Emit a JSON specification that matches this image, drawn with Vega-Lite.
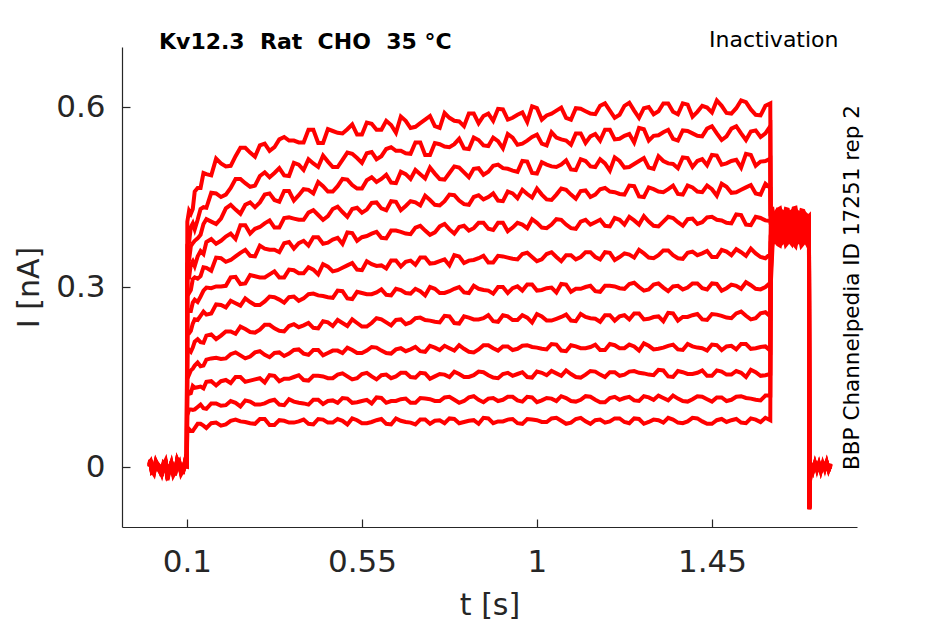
{
  "$schema": "https://vega.github.io/schema/vega-lite/v6.json",
  "description": "Kv12.3 inactivation current traces",
  "width": 735,
  "height": 480,
  "autosize": {"type": "none"},
  "padding": {"left": 122, "top": 47, "right": 88, "bottom": 97},
  "background": "white",
  "config": {"view": {"stroke": null}, "axis": {"grid": false}},
  "title": {
    "text": "Kv12.3\u00a0\u00a0Rat\u00a0\u00a0CHO\u00a0\u00a035 °C",
    "anchor": "start",
    "frame": "group",
    "dx": 37,
    "offset": -43,
    "baseline": "alphabetic",
    "font": "DejaVu Sans",
    "fontSize": 22,
    "fontWeight": "bold",
    "color": "#000000"
  },
  "layer": [
    {
      "data": {
        "values": [
          {"t": 0.003, "s1": 0.004, "s2": 0.007, "s3": 0.002, "s4": 0.008, "s5": 0.001, "s6": 0.005, "s7": 0.000, "s8": 0.006, "s9": 0.003, "s10": 0.007, "s11": 0.002, "s12": 0.005},
          {"t": 0.0065, "s1": 0.010, "s2": 0.007, "s3": 0.011, "s4": 0.005, "s5": 0.008, "s6": 0.012, "s7": 0.006, "s8": 0.009, "s9": 0.004, "s10": 0.010, "s11": 0.011, "s12": 0.007},
          {"t": 0.01, "s1": -0.006, "s2": -0.003, "s3": -0.008, "s4": -0.002, "s5": -0.009, "s6": -0.005, "s7": -0.010, "s8": -0.004, "s9": -0.007, "s10": -0.003, "s11": -0.008, "s12": -0.005},
          {"t": 0.015, "s1": -0.006, "s2": -0.009, "s3": -0.005, "s4": -0.011, "s5": -0.008, "s6": -0.004, "s7": -0.010, "s8": -0.007, "s9": -0.012, "s10": -0.006, "s11": -0.005, "s12": -0.009},
          {"t": 0.02, "s1": 0.007, "s2": 0.010, "s3": 0.005, "s4": 0.011, "s5": 0.004, "s6": 0.008, "s7": 0.003, "s8": 0.009, "s9": 0.006, "s10": 0.010, "s11": 0.005, "s12": 0.008},
          {"t": 0.025, "s1": 0.003, "s2": 0.000, "s3": 0.004, "s4": -0.002, "s5": 0.001, "s6": 0.005, "s7": -0.001, "s8": 0.002, "s9": -0.003, "s10": 0.003, "s11": 0.004, "s12": 0.000},
          {"t": 0.03, "s1": -0.004, "s2": -0.001, "s3": -0.006, "s4": 0.000, "s5": -0.007, "s6": -0.003, "s7": -0.008, "s8": -0.002, "s9": -0.005, "s10": -0.001, "s11": -0.006, "s12": -0.003},
          {"t": 0.035, "s1": -0.009, "s2": -0.012, "s3": -0.008, "s4": -0.014, "s5": -0.011, "s6": -0.007, "s7": -0.013, "s8": -0.010, "s9": -0.015, "s10": -0.009, "s11": -0.008, "s12": -0.012},
          {"t": 0.04, "s1": 0.003, "s2": 0.006, "s3": 0.001, "s4": 0.007, "s5": 0.000, "s6": 0.004, "s7": -0.001, "s8": 0.005, "s9": 0.002, "s10": 0.006, "s11": 0.001, "s12": 0.004},
          {"t": 0.045, "s1": 0.009, "s2": 0.006, "s3": 0.010, "s4": 0.004, "s5": 0.007, "s6": 0.011, "s7": 0.005, "s8": 0.008, "s9": 0.003, "s10": 0.009, "s11": 0.010, "s12": 0.006},
          {"t": 0.05, "s1": -0.018, "s2": -0.012, "s3": -0.020, "s4": -0.010, "s5": -0.016, "s6": -0.009, "s7": -0.022, "s8": -0.011, "s9": -0.014, "s10": -0.008, "s11": -0.019, "s12": -0.013},
          {"t": 0.055, "s1": -0.002, "s2": -0.005, "s3": -0.001, "s4": -0.007, "s5": -0.004, "s6": 0.000, "s7": -0.006, "s8": -0.003, "s9": -0.008, "s10": -0.002, "s11": -0.001, "s12": -0.005},
          {"t": 0.06, "s1": 0.005, "s2": 0.008, "s3": 0.003, "s4": 0.009, "s5": 0.002, "s6": 0.006, "s7": 0.001, "s8": 0.007, "s9": 0.004, "s10": 0.008, "s11": 0.003, "s12": 0.006},
          {"t": 0.065, "s1": -0.008, "s2": -0.011, "s3": -0.007, "s4": -0.013, "s5": -0.010, "s6": -0.006, "s7": -0.012, "s8": -0.009, "s9": -0.014, "s10": -0.008, "s11": -0.007, "s12": -0.011},
          {"t": 0.07, "s1": -0.007, "s2": -0.004, "s3": -0.009, "s4": -0.003, "s5": -0.010, "s6": -0.006, "s7": -0.011, "s8": -0.005, "s9": -0.008, "s10": -0.004, "s11": -0.009, "s12": -0.006},
          {"t": 0.075, "s1": 0.011, "s2": 0.008, "s3": 0.012, "s4": 0.006, "s5": 0.009, "s6": 0.013, "s7": 0.007, "s8": 0.010, "s9": 0.005, "s10": 0.011, "s11": 0.012, "s12": 0.008},
          {"t": 0.08, "s1": 0.006, "s2": 0.009, "s3": 0.004, "s4": 0.010, "s5": 0.003, "s6": 0.007, "s7": 0.002, "s8": 0.008, "s9": 0.005, "s10": 0.009, "s11": 0.004, "s12": 0.007},
          {"t": 0.085, "s1": -0.006, "s2": -0.009, "s3": -0.005, "s4": -0.011, "s5": -0.008, "s6": -0.004, "s7": -0.010, "s8": -0.007, "s9": -0.012, "s10": -0.006, "s11": -0.005, "s12": -0.009},
          {"t": 0.09, "s1": -0.005, "s2": -0.002, "s3": -0.007, "s4": -0.001, "s5": -0.008, "s6": -0.004, "s7": -0.009, "s8": -0.003, "s9": -0.006, "s10": -0.002, "s11": -0.007, "s12": -0.004},
          {"t": 0.095, "s1": 0.008, "s2": 0.005, "s3": 0.009, "s4": 0.003, "s5": 0.006, "s6": 0.010, "s7": 0.004, "s8": 0.007, "s9": 0.002, "s10": 0.008, "s11": 0.009, "s12": 0.005},
          {"t": 0.0995, "s1": 0.002, "s2": 0.005, "s3": 0.000, "s4": 0.006, "s5": -0.001, "s6": 0.003, "s7": -0.002, "s8": 0.004, "s9": 0.001, "s10": 0.005, "s11": 0.000, "s12": 0.003},
          {"t": 0.101, "s1": 0.066, "s2": 0.086, "s3": 0.128, "s4": 0.161, "s5": 0.190, "s6": 0.223, "s7": 0.262, "s8": 0.296, "s9": 0.316, "s10": 0.339, "s11": 0.370, "s12": 0.409},
          {"t": 0.11, "s1": 0.060, "s2": 0.096, "s3": 0.123, "s4": 0.161, "s5": 0.192, "s6": 0.227, "s7": 0.260, "s8": 0.295, "s9": 0.338, "s10": 0.368, "s11": 0.400, "s12": 0.422},
          {"t": 0.12, "s1": 0.065, "s2": 0.096, "s3": 0.132, "s4": 0.169, "s5": 0.209, "s6": 0.246, "s7": 0.279, "s8": 0.316, "s9": 0.335, "s10": 0.377, "s11": 0.396, "s12": 0.459},
          {"t": 0.135, "s1": 0.072, "s2": 0.104, "s3": 0.134, "s4": 0.168, "s5": 0.208, "s6": 0.252, "s7": 0.284, "s8": 0.318, "s9": 0.360, "s10": 0.387, "s11": 0.430, "s12": 0.465},
          {"t": 0.15, "s1": 0.065, "s2": 0.097, "s3": 0.142, "s4": 0.179, "s5": 0.219, "s6": 0.254, "s7": 0.299, "s8": 0.332, "s9": 0.375, "s10": 0.413, "s11": 0.432, "s12": 0.488},
          {"t": 0.175, "s1": 0.074, "s2": 0.106, "s3": 0.136, "s4": 0.182, "s5": 0.213, "s6": 0.271, "s7": 0.301, "s8": 0.349, "s9": 0.372, "s10": 0.405, "s11": 0.456, "s12": 0.514},
          {"t": 0.2, "s1": 0.071, "s2": 0.103, "s3": 0.145, "s4": 0.181, "s5": 0.226, "s6": 0.266, "s7": 0.302, "s8": 0.342, "s9": 0.384, "s10": 0.431, "s11": 0.454, "s12": 0.501},
          {"t": 0.225, "s1": 0.079, "s2": 0.107, "s3": 0.150, "s4": 0.191, "s5": 0.222, "s6": 0.273, "s7": 0.317, "s8": 0.351, "s9": 0.380, "s10": 0.429, "s11": 0.480, "s12": 0.518},
          {"t": 0.25, "s1": 0.075, "s2": 0.111, "s3": 0.142, "s4": 0.181, "s5": 0.230, "s6": 0.281, "s7": 0.306, "s8": 0.362, "s9": 0.403, "s10": 0.437, "s11": 0.473, "s12": 0.532},
          {"t": 0.275, "s1": 0.072, "s2": 0.104, "s3": 0.146, "s4": 0.191, "s5": 0.224, "s6": 0.270, "s7": 0.318, "s8": 0.351, "s9": 0.397, "s10": 0.433, "s11": 0.469, "s12": 0.517},
          {"t": 0.3, "s1": 0.080, "s2": 0.106, "s3": 0.141, "s4": 0.187, "s5": 0.237, "s6": 0.276, "s7": 0.316, "s8": 0.364, "s9": 0.406, "s10": 0.454, "s11": 0.491, "s12": 0.539},
          {"t": 0.325, "s1": 0.070, "s2": 0.112, "s3": 0.152, "s4": 0.190, "s5": 0.231, "s6": 0.283, "s7": 0.326, "s8": 0.362, "s9": 0.399, "s10": 0.445, "s11": 0.490, "s12": 0.533},
          {"t": 0.35, "s1": 0.077, "s2": 0.103, "s3": 0.147, "s4": 0.185, "s5": 0.226, "s6": 0.274, "s7": 0.316, "s8": 0.373, "s9": 0.415, "s10": 0.460, "s11": 0.486, "s12": 0.550},
          {"t": 0.375, "s1": 0.074, "s2": 0.109, "s3": 0.150, "s4": 0.195, "s5": 0.238, "s6": 0.284, "s7": 0.328, "s8": 0.364, "s9": 0.414, "s10": 0.444, "s11": 0.507, "s12": 0.544},
          {"t": 0.4, "s1": 0.079, "s2": 0.106, "s3": 0.145, "s4": 0.189, "s5": 0.236, "s6": 0.281, "s7": 0.323, "s8": 0.377, "s9": 0.412, "s10": 0.463, "s11": 0.495, "s12": 0.541},
          {"t": 0.425, "s1": 0.071, "s2": 0.112, "s3": 0.152, "s4": 0.195, "s5": 0.232, "s6": 0.289, "s7": 0.329, "s8": 0.383, "s9": 0.428, "s10": 0.456, "s11": 0.506, "s12": 0.562},
          {"t": 0.45, "s1": 0.079, "s2": 0.105, "s3": 0.151, "s4": 0.186, "s5": 0.243, "s6": 0.285, "s7": 0.338, "s8": 0.372, "s9": 0.412, "s10": 0.468, "s11": 0.519, "s12": 0.540},
          {"t": 0.475, "s1": 0.074, "s2": 0.111, "s3": 0.148, "s4": 0.194, "s5": 0.235, "s6": 0.282, "s7": 0.326, "s8": 0.379, "s9": 0.430, "s10": 0.459, "s11": 0.500, "s12": 0.560},
          {"t": 0.5, "s1": 0.077, "s2": 0.115, "s3": 0.156, "s4": 0.190, "s5": 0.240, "s6": 0.293, "s7": 0.332, "s8": 0.372, "s9": 0.425, "s10": 0.480, "s11": 0.512, "s12": 0.556},
          {"t": 0.525, "s1": 0.081, "s2": 0.107, "s3": 0.146, "s4": 0.195, "s5": 0.246, "s6": 0.280, "s7": 0.340, "s8": 0.390, "s9": 0.430, "s10": 0.470, "s11": 0.522, "s12": 0.571},
          {"t": 0.55, "s1": 0.073, "s2": 0.110, "s3": 0.155, "s4": 0.190, "s5": 0.234, "s6": 0.290, "s7": 0.328, "s8": 0.383, "s9": 0.424, "s10": 0.464, "s11": 0.507, "s12": 0.554},
          {"t": 0.575, "s1": 0.075, "s2": 0.106, "s3": 0.151, "s4": 0.200, "s5": 0.240, "s6": 0.288, "s7": 0.338, "s8": 0.389, "s9": 0.440, "s10": 0.483, "s11": 0.525, "s12": 0.572},
          {"t": 0.6, "s1": 0.080, "s2": 0.115, "s3": 0.153, "s4": 0.194, "s5": 0.246, "s6": 0.296, "s7": 0.336, "s8": 0.382, "s9": 0.431, "s10": 0.480, "s11": 0.518, "s12": 0.562},
          {"t": 0.625, "s1": 0.071, "s2": 0.110, "s3": 0.148, "s4": 0.189, "s5": 0.236, "s6": 0.286, "s7": 0.344, "s8": 0.394, "s9": 0.443, "s10": 0.474, "s11": 0.533, "s12": 0.570},
          {"t": 0.65, "s1": 0.077, "s2": 0.113, "s3": 0.157, "s4": 0.198, "s5": 0.246, "s6": 0.295, "s7": 0.334, "s8": 0.392, "s9": 0.428, "s10": 0.492, "s11": 0.527, "s12": 0.584},
          {"t": 0.675, "s1": 0.074, "s2": 0.107, "s3": 0.150, "s4": 0.196, "s5": 0.241, "s6": 0.289, "s7": 0.344, "s8": 0.388, "s9": 0.443, "s10": 0.480, "s11": 0.522, "s12": 0.565},
          {"t": 0.7, "s1": 0.079, "s2": 0.115, "s3": 0.157, "s4": 0.193, "s5": 0.249, "s6": 0.293, "s7": 0.349, "s8": 0.402, "s9": 0.436, "s10": 0.488, "s11": 0.541, "s12": 0.573},
          {"t": 0.725, "s1": 0.072, "s2": 0.113, "s3": 0.147, "s4": 0.202, "s5": 0.244, "s6": 0.300, "s7": 0.339, "s8": 0.387, "s9": 0.445, "s10": 0.499, "s11": 0.520, "s12": 0.585},
          {"t": 0.75, "s1": 0.078, "s2": 0.110, "s3": 0.155, "s4": 0.195, "s5": 0.241, "s6": 0.290, "s7": 0.343, "s8": 0.401, "s9": 0.436, "s10": 0.480, "s11": 0.538, "s12": 0.565},
          {"t": 0.775, "s1": 0.081, "s2": 0.117, "s3": 0.150, "s4": 0.198, "s5": 0.251, "s6": 0.293, "s7": 0.336, "s8": 0.396, "s9": 0.454, "s10": 0.490, "s11": 0.533, "s12": 0.582},
          {"t": 0.8, "s1": 0.073, "s2": 0.107, "s3": 0.155, "s4": 0.203, "s5": 0.239, "s6": 0.300, "s7": 0.351, "s8": 0.400, "s9": 0.444, "s10": 0.499, "s11": 0.547, "s12": 0.576},
          {"t": 0.825, "s1": 0.077, "s2": 0.116, "s3": 0.150, "s4": 0.192, "s5": 0.249, "s6": 0.290, "s7": 0.344, "s8": 0.394, "s9": 0.437, "s10": 0.483, "s11": 0.530, "s12": 0.589},
          {"t": 0.85, "s1": 0.072, "s2": 0.112, "s3": 0.159, "s4": 0.196, "s5": 0.246, "s6": 0.297, "s7": 0.348, "s8": 0.407, "s9": 0.453, "s10": 0.498, "s11": 0.545, "s12": 0.573},
          {"t": 0.875, "s1": 0.081, "s2": 0.114, "s3": 0.153, "s4": 0.203, "s5": 0.253, "s6": 0.294, "s7": 0.341, "s8": 0.397, "s9": 0.450, "s10": 0.492, "s11": 0.535, "s12": 0.589},
          {"t": 0.9, "s1": 0.076, "s2": 0.110, "s3": 0.148, "s4": 0.194, "s5": 0.242, "s6": 0.300, "s7": 0.352, "s8": 0.407, "s9": 0.444, "s10": 0.504, "s11": 0.543, "s12": 0.597},
          {"t": 0.925, "s1": 0.079, "s2": 0.117, "s3": 0.157, "s4": 0.201, "s5": 0.251, "s6": 0.290, "s7": 0.349, "s8": 0.393, "s9": 0.459, "s10": 0.497, "s11": 0.555, "s12": 0.579},
          {"t": 0.95, "s1": 0.073, "s2": 0.111, "s3": 0.155, "s4": 0.197, "s5": 0.245, "s6": 0.301, "s7": 0.346, "s8": 0.407, "s9": 0.448, "s10": 0.492, "s11": 0.537, "s12": 0.587},
          {"t": 0.975, "s1": 0.080, "s2": 0.117, "s3": 0.150, "s4": 0.203, "s5": 0.249, "s6": 0.304, "s7": 0.357, "s8": 0.398, "s9": 0.455, "s10": 0.509, "s11": 0.544, "s12": 0.575},
          {"t": 1.0, "s1": 0.078, "s2": 0.108, "s3": 0.159, "s4": 0.199, "s5": 0.255, "s6": 0.294, "s7": 0.343, "s8": 0.407, "s9": 0.464, "s10": 0.489, "s11": 0.554, "s12": 0.598},
          {"t": 1.025, "s1": 0.075, "s2": 0.115, "s3": 0.153, "s4": 0.196, "s5": 0.244, "s6": 0.298, "s7": 0.355, "s8": 0.398, "s9": 0.446, "s10": 0.504, "s11": 0.536, "s12": 0.586},
          {"t": 1.05, "s1": 0.082, "s2": 0.110, "s3": 0.156, "s4": 0.204, "s5": 0.247, "s6": 0.291, "s7": 0.350, "s8": 0.413, "s9": 0.454, "s10": 0.500, "s11": 0.549, "s12": 0.594},
          {"t": 1.075, "s1": 0.072, "s2": 0.115, "s3": 0.161, "s4": 0.193, "s5": 0.254, "s6": 0.304, "s7": 0.353, "s8": 0.404, "s9": 0.462, "s10": 0.511, "s11": 0.544, "s12": 0.582},
          {"t": 1.1, "s1": 0.080, "s2": 0.109, "s3": 0.150, "s4": 0.201, "s5": 0.243, "s6": 0.297, "s7": 0.346, "s8": 0.397, "s9": 0.447, "s10": 0.495, "s11": 0.556, "s12": 0.598},
          {"t": 1.125, "s1": 0.076, "s2": 0.118, "s3": 0.154, "s4": 0.198, "s5": 0.250, "s6": 0.300, "s7": 0.358, "s8": 0.412, "s9": 0.461, "s10": 0.510, "s11": 0.540, "s12": 0.593},
          {"t": 1.15, "s1": 0.078, "s2": 0.112, "s3": 0.159, "s4": 0.204, "s5": 0.247, "s6": 0.293, "s7": 0.350, "s8": 0.408, "s9": 0.454, "s10": 0.500, "s11": 0.555, "s12": 0.588},
          {"t": 1.175, "s1": 0.074, "s2": 0.108, "s3": 0.150, "s4": 0.195, "s5": 0.253, "s6": 0.302, "s7": 0.358, "s8": 0.402, "s9": 0.465, "s10": 0.506, "s11": 0.562, "s12": 0.606},
          {"t": 1.2, "s1": 0.081, "s2": 0.117, "s3": 0.158, "s4": 0.203, "s5": 0.244, "s6": 0.301, "s7": 0.345, "s8": 0.415, "s9": 0.458, "s10": 0.516, "s11": 0.546, "s12": 0.582},
          {"t": 1.225, "s1": 0.075, "s2": 0.115, "s3": 0.154, "s4": 0.198, "s5": 0.253, "s6": 0.297, "s7": 0.356, "s8": 0.404, "s9": 0.454, "s10": 0.499, "s11": 0.552, "s12": 0.602},
          {"t": 1.25, "s1": 0.081, "s2": 0.111, "s3": 0.160, "s4": 0.201, "s5": 0.256, "s6": 0.307, "s7": 0.349, "s8": 0.411, "s9": 0.468, "s10": 0.505, "s11": 0.541, "s12": 0.594},
          {"t": 1.275, "s1": 0.072, "s2": 0.118, "s3": 0.156, "s4": 0.206, "s5": 0.246, "s6": 0.294, "s7": 0.356, "s8": 0.418, "s9": 0.450, "s10": 0.515, "s11": 0.563, "s12": 0.598},
          {"t": 1.3, "s1": 0.079, "s2": 0.112, "s3": 0.153, "s4": 0.196, "s5": 0.250, "s6": 0.304, "s7": 0.348, "s8": 0.402, "s9": 0.463, "s10": 0.497, "s11": 0.552, "s12": 0.588},
          {"t": 1.325, "s1": 0.074, "s2": 0.115, "s3": 0.161, "s4": 0.199, "s5": 0.243, "s6": 0.299, "s7": 0.361, "s8": 0.409, "s9": 0.458, "s10": 0.510, "s11": 0.558, "s12": 0.606},
          {"t": 1.35, "s1": 0.079, "s2": 0.119, "s3": 0.150, "s4": 0.204, "s5": 0.256, "s6": 0.301, "s7": 0.353, "s8": 0.415, "s9": 0.469, "s10": 0.505, "s11": 0.547, "s12": 0.592},
          {"t": 1.375, "s1": 0.073, "s2": 0.110, "s3": 0.158, "s4": 0.195, "s5": 0.250, "s6": 0.296, "s7": 0.347, "s8": 0.402, "s9": 0.454, "s10": 0.516, "s11": 0.561, "s12": 0.606},
          {"t": 1.4, "s1": 0.082, "s2": 0.113, "s3": 0.155, "s4": 0.201, "s5": 0.253, "s6": 0.306, "s7": 0.359, "s8": 0.414, "s9": 0.466, "s10": 0.500, "s11": 0.556, "s12": 0.584},
          {"t": 1.425, "s1": 0.076, "s2": 0.117, "s3": 0.161, "s4": 0.198, "s5": 0.246, "s6": 0.298, "s7": 0.356, "s8": 0.408, "s9": 0.458, "s10": 0.513, "s11": 0.551, "s12": 0.602},
          {"t": 1.45, "s1": 0.072, "s2": 0.109, "s3": 0.152, "s4": 0.204, "s5": 0.255, "s6": 0.306, "s7": 0.350, "s8": 0.417, "s9": 0.463, "s10": 0.520, "s11": 0.568, "s12": 0.591},
          {"t": 1.475, "s1": 0.080, "s2": 0.116, "s3": 0.159, "s4": 0.195, "s5": 0.252, "s6": 0.294, "s7": 0.362, "s8": 0.411, "s9": 0.472, "s10": 0.504, "s11": 0.545, "s12": 0.602},
          {"t": 1.5, "s1": 0.078, "s2": 0.112, "s3": 0.154, "s4": 0.202, "s5": 0.248, "s6": 0.304, "s7": 0.353, "s8": 0.406, "s9": 0.457, "s10": 0.510, "s11": 0.564, "s12": 0.589},
          {"t": 1.525, "s1": 0.074, "s2": 0.118, "s3": 0.157, "s4": 0.205, "s5": 0.259, "s6": 0.297, "s7": 0.358, "s8": 0.420, "s9": 0.462, "s10": 0.499, "s11": 0.556, "s12": 0.611},
          {"t": 1.55, "s1": 0.081, "s2": 0.114, "s3": 0.162, "s4": 0.197, "s5": 0.246, "s6": 0.303, "s7": 0.364, "s8": 0.403, "s9": 0.470, "s10": 0.520, "s11": 0.559, "s12": 0.596},
          {"t": 1.575, "s1": 0.075, "s2": 0.111, "s3": 0.152, "s4": 0.200, "s5": 0.256, "s6": 0.296, "s7": 0.350, "s8": 0.415, "s9": 0.454, "s10": 0.509, "s11": 0.550, "s12": 0.586},
          {"t": 1.6, "s1": 0.078, "s2": 0.119, "s3": 0.155, "s4": 0.194, "s5": 0.251, "s6": 0.307, "s7": 0.355, "s8": 0.410, "s9": 0.465, "s10": 0.514, "s11": 0.568, "s12": 0.606},
          {"t": 0.1055, "s1": 0.063, "s2": 0.096, "s3": 0.122, "s4": 0.154, "s5": 0.195, "s6": 0.223, "s7": 0.260, "s8": 0.290, "s9": 0.316, "s10": 0.345, "s11": 0.375, "s12": 0.427},
          {"t": 0.115, "s1": 0.060, "s2": 0.095, "s3": 0.135, "s4": 0.164, "s5": 0.199, "s6": 0.239, "s7": 0.274, "s8": 0.313, "s9": 0.343, "s10": 0.373, "s11": 0.406, "s12": 0.430},
          {"t": 0.1275, "s1": 0.072, "s2": 0.100, "s3": 0.133, "s4": 0.174, "s5": 0.213, "s6": 0.245, "s7": 0.275, "s8": 0.314, "s9": 0.351, "s10": 0.381, "s11": 0.412, "s12": 0.465},
          {"t": 0.1425, "s1": 0.069, "s2": 0.098, "s3": 0.131, "s4": 0.169, "s5": 0.207, "s6": 0.259, "s7": 0.294, "s8": 0.333, "s9": 0.355, "s10": 0.405, "s11": 0.433, "s12": 0.490},
          {"t": 0.1625, "s1": 0.073, "s2": 0.106, "s3": 0.143, "s4": 0.181, "s5": 0.221, "s6": 0.256, "s7": 0.298, "s8": 0.327, "s9": 0.380, "s10": 0.409, "s11": 0.457, "s12": 0.486},
          {"t": 0.1875, "s1": 0.069, "s2": 0.102, "s3": 0.143, "s4": 0.180, "s5": 0.219, "s6": 0.270, "s7": 0.301, "s8": 0.348, "s9": 0.377, "s10": 0.414, "s11": 0.450, "s12": 0.506},
          {"t": 0.2125, "s1": 0.077, "s2": 0.110, "s3": 0.140, "s4": 0.188, "s5": 0.226, "s6": 0.277, "s7": 0.316, "s8": 0.345, "s9": 0.389, "s10": 0.437, "s11": 0.465, "s12": 0.502},
          {"t": 0.2375, "s1": 0.076, "s2": 0.101, "s3": 0.150, "s4": 0.186, "s5": 0.234, "s6": 0.269, "s7": 0.305, "s8": 0.357, "s9": 0.403, "s10": 0.422, "s11": 0.480, "s12": 0.532},
          {"t": 0.2625, "s1": 0.073, "s2": 0.109, "s3": 0.144, "s4": 0.184, "s5": 0.225, "s6": 0.275, "s7": 0.320, "s8": 0.352, "s9": 0.389, "s10": 0.441, "s11": 0.467, "s12": 0.524},
          {"t": 0.2875, "s1": 0.080, "s2": 0.104, "s3": 0.148, "s4": 0.193, "s5": 0.229, "s6": 0.270, "s7": 0.316, "s8": 0.369, "s9": 0.400, "s10": 0.441, "s11": 0.485, "s12": 0.536},
          {"t": 0.3125, "s1": 0.070, "s2": 0.110, "s3": 0.153, "s4": 0.183, "s5": 0.237, "s6": 0.284, "s7": 0.321, "s8": 0.362, "s9": 0.411, "s10": 0.456, "s11": 0.483, "s12": 0.527},
          {"t": 0.3375, "s1": 0.078, "s2": 0.104, "s3": 0.143, "s4": 0.191, "s5": 0.227, "s6": 0.279, "s7": 0.316, "s8": 0.358, "s9": 0.399, "s10": 0.442, "s11": 0.498, "s12": 0.546},
          {"t": 0.3625, "s1": 0.074, "s2": 0.113, "s3": 0.147, "s4": 0.189, "s5": 0.235, "s6": 0.283, "s7": 0.329, "s8": 0.375, "s9": 0.416, "s10": 0.460, "s11": 0.485, "s12": 0.544},
          {"t": 0.3875, "s1": 0.076, "s2": 0.107, "s3": 0.153, "s4": 0.196, "s5": 0.233, "s6": 0.277, "s7": 0.323, "s8": 0.373, "s9": 0.412, "s10": 0.453, "s11": 0.504, "s12": 0.541},
          {"t": 0.4125, "s1": 0.072, "s2": 0.104, "s3": 0.144, "s4": 0.187, "s5": 0.240, "s6": 0.288, "s7": 0.333, "s8": 0.369, "s9": 0.424, "s10": 0.462, "s11": 0.513, "s12": 0.562},
          {"t": 0.4375, "s1": 0.080, "s2": 0.112, "s3": 0.152, "s4": 0.195, "s5": 0.231, "s6": 0.286, "s7": 0.321, "s8": 0.383, "s9": 0.420, "s10": 0.475, "s11": 0.500, "s12": 0.540},
          {"t": 0.4625, "s1": 0.074, "s2": 0.110, "s3": 0.148, "s4": 0.190, "s5": 0.241, "s6": 0.283, "s7": 0.334, "s8": 0.374, "s9": 0.418, "s10": 0.459, "s11": 0.509, "s12": 0.563},
          {"t": 0.4875, "s1": 0.080, "s2": 0.107, "s3": 0.154, "s4": 0.194, "s5": 0.245, "s6": 0.294, "s7": 0.328, "s8": 0.382, "s9": 0.434, "s10": 0.468, "s11": 0.500, "s12": 0.557},
          {"t": 0.5125, "s1": 0.071, "s2": 0.114, "s3": 0.151, "s4": 0.199, "s5": 0.235, "s6": 0.281, "s7": 0.336, "s8": 0.391, "s9": 0.417, "s10": 0.479, "s11": 0.524, "s12": 0.563},
          {"t": 0.5375, "s1": 0.078, "s2": 0.108, "s3": 0.148, "s4": 0.190, "s5": 0.240, "s6": 0.292, "s7": 0.329, "s8": 0.377, "s9": 0.432, "s10": 0.464, "s11": 0.515, "s12": 0.554},
          {"t": 0.5625, "s1": 0.073, "s2": 0.112, "s3": 0.157, "s4": 0.194, "s5": 0.234, "s6": 0.288, "s7": 0.343, "s8": 0.385, "s9": 0.429, "s10": 0.478, "s11": 0.523, "s12": 0.574},
          {"t": 0.5875, "s1": 0.078, "s2": 0.116, "s3": 0.146, "s4": 0.199, "s5": 0.248, "s6": 0.291, "s7": 0.335, "s8": 0.392, "s9": 0.441, "s10": 0.475, "s11": 0.513, "s12": 0.562},
          {"t": 0.6125, "s1": 0.072, "s2": 0.107, "s3": 0.154, "s4": 0.190, "s5": 0.241, "s6": 0.287, "s7": 0.331, "s8": 0.381, "s9": 0.428, "s10": 0.487, "s11": 0.530, "s12": 0.577},
          {"t": 0.6375, "s1": 0.081, "s2": 0.110, "s3": 0.151, "s4": 0.196, "s5": 0.245, "s6": 0.297, "s7": 0.344, "s8": 0.394, "s9": 0.442, "s10": 0.473, "s11": 0.527, "s12": 0.557},
          {"t": 0.6625, "s1": 0.075, "s2": 0.114, "s3": 0.157, "s4": 0.193, "s5": 0.238, "s6": 0.290, "s7": 0.342, "s8": 0.389, "s9": 0.435, "s10": 0.488, "s11": 0.523, "s12": 0.577},
          {"t": 0.6875, "s1": 0.071, "s2": 0.107, "s3": 0.149, "s4": 0.200, "s5": 0.248, "s6": 0.297, "s7": 0.337, "s8": 0.399, "s9": 0.441, "s10": 0.495, "s11": 0.541, "s12": 0.567},
          {"t": 0.7125, "s1": 0.079, "s2": 0.114, "s3": 0.156, "s4": 0.192, "s5": 0.245, "s6": 0.286, "s7": 0.349, "s8": 0.394, "s9": 0.452, "s10": 0.481, "s11": 0.520, "s12": 0.579},
          {"t": 0.7375, "s1": 0.077, "s2": 0.110, "s3": 0.151, "s4": 0.199, "s5": 0.242, "s6": 0.297, "s7": 0.340, "s8": 0.391, "s9": 0.437, "s10": 0.489, "s11": 0.540, "s12": 0.568},
          {"t": 0.7625, "s1": 0.073, "s2": 0.116, "s3": 0.154, "s4": 0.202, "s5": 0.252, "s6": 0.290, "s7": 0.346, "s8": 0.405, "s9": 0.443, "s10": 0.479, "s11": 0.534, "s12": 0.590},
          {"t": 0.7875, "s1": 0.080, "s2": 0.112, "s3": 0.159, "s4": 0.194, "s5": 0.240, "s6": 0.297, "s7": 0.353, "s8": 0.389, "s9": 0.453, "s10": 0.501, "s11": 0.538, "s12": 0.577},
          {"t": 0.8125, "s1": 0.075, "s2": 0.110, "s3": 0.150, "s4": 0.197, "s5": 0.251, "s6": 0.291, "s7": 0.340, "s8": 0.402, "s9": 0.438, "s10": 0.491, "s11": 0.531, "s12": 0.568},
          {"t": 0.8375, "s1": 0.078, "s2": 0.118, "s3": 0.153, "s4": 0.191, "s5": 0.246, "s6": 0.302, "s7": 0.345, "s8": 0.398, "s9": 0.450, "s10": 0.497, "s11": 0.549, "s12": 0.589},
          {"t": 0.8625, "s1": 0.082, "s2": 0.108, "s3": 0.158, "s4": 0.203, "s5": 0.248, "s6": 0.295, "s7": 0.352, "s8": 0.407, "s9": 0.446, "s10": 0.487, "s11": 0.536, "s12": 0.585},
          {"t": 0.8875, "s1": 0.073, "s2": 0.115, "s3": 0.149, "s4": 0.198, "s5": 0.243, "s6": 0.289, "s7": 0.341, "s8": 0.395, "s9": 0.456, "s10": 0.502, "s11": 0.549, "s12": 0.577},
          {"t": 0.9125, "s1": 0.076, "s2": 0.112, "s3": 0.155, "s4": 0.201, "s5": 0.253, "s6": 0.300, "s7": 0.351, "s8": 0.407, "s9": 0.443, "s10": 0.498, "s11": 0.531, "s12": 0.596},
          {"t": 0.9375, "s1": 0.080, "s2": 0.117, "s3": 0.152, "s4": 0.195, "s5": 0.245, "s6": 0.298, "s7": 0.347, "s8": 0.399, "s9": 0.456, "s10": 0.494, "s11": 0.549, "s12": 0.582},
          {"t": 0.9625, "s1": 0.072, "s2": 0.109, "s3": 0.158, "s4": 0.202, "s5": 0.253, "s6": 0.294, "s7": 0.355, "s8": 0.404, "s9": 0.462, "s10": 0.510, "s11": 0.539, "s12": 0.591},
          {"t": 0.9875, "s1": 0.079, "s2": 0.116, "s3": 0.149, "s4": 0.200, "s5": 0.241, "s6": 0.304, "s7": 0.350, "s8": 0.413, "s9": 0.449, "s10": 0.490, "s11": 0.550, "s12": 0.601},
          {"t": 1.0125, "s1": 0.075, "s2": 0.111, "s3": 0.157, "s4": 0.197, "s5": 0.251, "s6": 0.295, "s7": 0.346, "s8": 0.399, "s9": 0.454, "s10": 0.508, "s11": 0.539, "s12": 0.579},
          {"t": 1.0375, "s1": 0.081, "s2": 0.114, "s3": 0.160, "s4": 0.205, "s5": 0.244, "s6": 0.299, "s7": 0.358, "s8": 0.404, "s9": 0.445, "s10": 0.501, "s11": 0.558, "s12": 0.589},
          {"t": 1.0625, "s1": 0.077, "s2": 0.118, "s3": 0.152, "s4": 0.194, "s5": 0.250, "s6": 0.305, "s7": 0.343, "s8": 0.412, "s9": 0.464, "s10": 0.504, "s11": 0.546, "s12": 0.599},
          {"t": 1.0875, "s1": 0.074, "s2": 0.110, "s3": 0.155, "s4": 0.203, "s5": 0.244, "s6": 0.292, "s7": 0.353, "s8": 0.398, "s9": 0.454, "s10": 0.496, "s11": 0.537, "s12": 0.579},
          {"t": 1.1125, "s1": 0.082, "s2": 0.112, "s3": 0.149, "s4": 0.198, "s5": 0.255, "s6": 0.297, "s7": 0.350, "s8": 0.409, "s9": 0.460, "s10": 0.513, "s11": 0.556, "s12": 0.597},
          {"t": 1.1375, "s1": 0.072, "s2": 0.117, "s3": 0.160, "s4": 0.200, "s5": 0.248, "s6": 0.302, "s7": 0.358, "s8": 0.404, "s9": 0.450, "s10": 0.501, "s11": 0.551, "s12": 0.589},
          {"t": 1.1625, "s1": 0.079, "s2": 0.108, "s3": 0.154, "s4": 0.195, "s5": 0.242, "s6": 0.292, "s7": 0.346, "s8": 0.412, "s9": 0.463, "s10": 0.513, "s11": 0.544, "s12": 0.602},
          {"t": 1.1875, "s1": 0.076, "s2": 0.115, "s3": 0.158, "s4": 0.205, "s5": 0.253, "s6": 0.302, "s7": 0.357, "s8": 0.401, "s9": 0.459, "s10": 0.494, "s11": 0.562, "s12": 0.594},
          {"t": 1.2125, "s1": 0.081, "s2": 0.112, "s3": 0.152, "s4": 0.198, "s5": 0.251, "s6": 0.298, "s7": 0.350, "s8": 0.412, "s9": 0.455, "s10": 0.510, "s11": 0.547, "s12": 0.587},
          {"t": 1.2375, "s1": 0.073, "s2": 0.117, "s3": 0.159, "s4": 0.204, "s5": 0.246, "s6": 0.305, "s7": 0.354, "s8": 0.417, "s9": 0.469, "s10": 0.500, "s11": 0.555, "s12": 0.607},
          {"t": 1.2625, "s1": 0.080, "s2": 0.110, "s3": 0.157, "s4": 0.194, "s5": 0.256, "s6": 0.300, "s7": 0.362, "s8": 0.404, "s9": 0.451, "s10": 0.510, "s11": 0.565, "s12": 0.582},
          {"t": 1.2875, "s1": 0.075, "s2": 0.116, "s3": 0.154, "s4": 0.202, "s5": 0.247, "s6": 0.296, "s7": 0.349, "s8": 0.409, "s9": 0.466, "s10": 0.499, "s11": 0.544, "s12": 0.600},
          {"t": 1.3125, "s1": 0.078, "s2": 0.119, "s3": 0.162, "s4": 0.197, "s5": 0.251, "s6": 0.306, "s7": 0.353, "s8": 0.401, "s9": 0.459, "s10": 0.518, "s11": 0.553, "s12": 0.593},
          {"t": 1.3375, "s1": 0.082, "s2": 0.111, "s3": 0.151, "s4": 0.202, "s5": 0.257, "s6": 0.293, "s7": 0.361, "s8": 0.417, "s9": 0.463, "s10": 0.506, "s11": 0.562, "s12": 0.606},
          {"t": 1.3625, "s1": 0.074, "s2": 0.114, "s3": 0.160, "s4": 0.196, "s5": 0.244, "s6": 0.302, "s7": 0.348, "s8": 0.408, "s9": 0.455, "s10": 0.498, "s11": 0.544, "s12": 0.588},
          {"t": 1.3875, "s1": 0.076, "s2": 0.109, "s3": 0.155, "s4": 0.205, "s5": 0.250, "s6": 0.299, "s7": 0.357, "s8": 0.413, "s9": 0.469, "s10": 0.515, "s11": 0.560, "s12": 0.604},
          {"t": 1.4125, "s1": 0.081, "s2": 0.118, "s3": 0.157, "s4": 0.199, "s5": 0.255, "s6": 0.306, "s7": 0.353, "s8": 0.405, "s9": 0.459, "s10": 0.510, "s11": 0.552, "s12": 0.592},
          {"t": 1.4375, "s1": 0.072, "s2": 0.113, "s3": 0.152, "s4": 0.194, "s5": 0.245, "s6": 0.296, "s7": 0.360, "s8": 0.416, "s9": 0.469, "s10": 0.503, "s11": 0.564, "s12": 0.599},
          {"t": 1.4625, "s1": 0.078, "s2": 0.116, "s3": 0.161, "s4": 0.203, "s5": 0.254, "s6": 0.305, "s7": 0.350, "s8": 0.412, "s9": 0.452, "s10": 0.519, "s11": 0.556, "s12": 0.611},
          {"t": 1.4875, "s1": 0.075, "s2": 0.110, "s3": 0.154, "s4": 0.201, "s5": 0.249, "s6": 0.298, "s7": 0.359, "s8": 0.407, "s9": 0.467, "s10": 0.506, "s11": 0.551, "s12": 0.590},
          {"t": 1.5125, "s1": 0.080, "s2": 0.117, "s3": 0.160, "s4": 0.196, "s5": 0.256, "s6": 0.302, "s7": 0.363, "s8": 0.421, "s9": 0.458, "s10": 0.512, "s11": 0.568, "s12": 0.598},
          {"t": 1.5375, "s1": 0.073, "s2": 0.115, "s3": 0.150, "s4": 0.205, "s5": 0.252, "s6": 0.308, "s7": 0.352, "s8": 0.404, "s9": 0.466, "s10": 0.522, "s11": 0.545, "s12": 0.608},
          {"t": 1.5625, "s1": 0.079, "s2": 0.112, "s3": 0.158, "s4": 0.198, "s5": 0.248, "s6": 0.297, "s7": 0.356, "s8": 0.417, "s9": 0.456, "s10": 0.502, "s11": 0.561, "s12": 0.587},
          {"t": 1.5875, "s1": 0.082, "s2": 0.119, "s3": 0.153, "s4": 0.201, "s5": 0.258, "s6": 0.300, "s7": 0.348, "s8": 0.411, "s9": 0.472, "s10": 0.510, "s11": 0.556, "s12": 0.602},
          {"t": 1.601, "s1": 0.300, "s2": 0.320, "s3": 0.340, "s4": 0.360, "s5": 0.375, "s6": 0.385, "s7": 0.395, "s8": 0.405, "s9": 0.410, "s10": 0.415, "s11": 0.420, "s12": 0.425},
          {"t": 1.606, "s1": 0.372, "s2": 0.386, "s3": 0.379, "s4": 0.395, "s5": 0.384, "s6": 0.401, "s7": 0.392, "s8": 0.411, "s9": 0.399, "s10": 0.420, "s11": 0.407, "s12": 0.428},
          {"t": 1.61, "s1": 0.383, "s2": 0.375, "s3": 0.390, "s4": 0.384, "s5": 0.395, "s6": 0.388, "s7": 0.402, "s8": 0.400, "s9": 0.413, "s10": 0.407, "s11": 0.420, "s12": 0.411},
          {"t": 1.615, "s1": 0.384, "s2": 0.374, "s3": 0.392, "s4": 0.381, "s5": 0.400, "s6": 0.389, "s7": 0.409, "s8": 0.396, "s9": 0.417, "s10": 0.404, "s11": 0.425, "s12": 0.412},
          {"t": 1.62, "s1": 0.371, "s2": 0.388, "s3": 0.380, "s4": 0.392, "s5": 0.387, "s6": 0.403, "s7": 0.396, "s8": 0.410, "s9": 0.398, "s10": 0.418, "s11": 0.409, "s12": 0.429},
          {"t": 1.625, "s1": 0.369, "s2": 0.389, "s3": 0.377, "s4": 0.396, "s5": 0.386, "s6": 0.404, "s7": 0.393, "s8": 0.413, "s9": 0.401, "s10": 0.419, "s11": 0.410, "s12": 0.431},
          {"t": 1.63, "s1": 0.385, "s2": 0.373, "s3": 0.393, "s4": 0.385, "s5": 0.401, "s6": 0.391, "s7": 0.408, "s8": 0.399, "s9": 0.417, "s10": 0.403, "s11": 0.426, "s12": 0.415},
          {"t": 1.635, "s1": 0.386, "s2": 0.376, "s3": 0.394, "s4": 0.383, "s5": 0.399, "s6": 0.390, "s7": 0.411, "s8": 0.398, "s9": 0.416, "s10": 0.406, "s11": 0.424, "s12": 0.414},
          {"t": 1.64, "s1": 0.370, "s2": 0.387, "s3": 0.378, "s4": 0.396, "s5": 0.384, "s6": 0.402, "s7": 0.392, "s8": 0.412, "s9": 0.402, "s10": 0.420, "s11": 0.407, "s12": 0.430},
          {"t": 1.645, "s1": 0.374, "s2": 0.391, "s3": 0.380, "s4": 0.397, "s5": 0.388, "s6": 0.403, "s7": 0.395, "s8": 0.408, "s9": 0.403, "s10": 0.421, "s11": 0.409, "s12": 0.429},
          {"t": 1.65, "s1": 0.383, "s2": 0.376, "s3": 0.391, "s4": 0.382, "s5": 0.399, "s6": 0.389, "s7": 0.409, "s8": 0.396, "s9": 0.415, "s10": 0.405, "s11": 0.424, "s12": 0.412},
          {"t": 1.655, "s1": 0.381, "s2": 0.372, "s3": 0.389, "s4": 0.385, "s5": 0.398, "s6": 0.392, "s7": 0.406, "s8": 0.401, "s9": 0.414, "s10": 0.407, "s11": 0.426, "s12": 0.417},
          {"t": 1.66, "s1": 0.372, "s2": 0.389, "s3": 0.379, "s4": 0.397, "s5": 0.386, "s6": 0.404, "s7": 0.394, "s8": 0.413, "s9": 0.399, "s10": 0.419, "s11": 0.410, "s12": 0.431},
          {"t": 1.665, "s1": 0.368, "s2": 0.387, "s3": 0.378, "s4": 0.394, "s5": 0.383, "s6": 0.405, "s7": 0.391, "s8": 0.414, "s9": 0.400, "s10": 0.418, "s11": 0.408, "s12": 0.432},
          {"t": 1.67, "s1": 0.386, "s2": 0.374, "s3": 0.392, "s4": 0.383, "s5": 0.400, "s6": 0.390, "s7": 0.407, "s8": 0.398, "s9": 0.416, "s10": 0.404, "s11": 0.425, "s12": 0.414},
          {"t": 1.675, "s1": 0.385, "s2": 0.377, "s3": 0.393, "s4": 0.381, "s5": 0.401, "s6": 0.388, "s7": 0.410, "s8": 0.397, "s9": 0.418, "s10": 0.405, "s11": 0.423, "s12": 0.413},
          {"t": 1.68, "s1": 0.369, "s2": 0.386, "s3": 0.380, "s4": 0.395, "s5": 0.385, "s6": 0.401, "s7": 0.393, "s8": 0.411, "s9": 0.401, "s10": 0.421, "s11": 0.408, "s12": 0.428},
          {"t": 1.685, "s1": 0.373, "s2": 0.390, "s3": 0.381, "s4": 0.398, "s5": 0.387, "s6": 0.402, "s7": 0.396, "s8": 0.409, "s9": 0.404, "s10": 0.422, "s11": 0.411, "s12": 0.427},
          {"t": 1.69, "s1": 0.382, "s2": 0.377, "s3": 0.388, "s4": 0.386, "s5": 0.397, "s6": 0.392, "s7": 0.405, "s8": 0.400, "s9": 0.413, "s10": 0.407, "s11": 0.422, "s12": 0.416},
          {"t": 1.695, "s1": 0.379, "s2": 0.371, "s3": 0.386, "s4": 0.384, "s5": 0.395, "s6": 0.391, "s7": 0.403, "s8": 0.399, "s9": 0.411, "s10": 0.406, "s11": 0.419, "s12": 0.415},
          {"t": 1.6995, "s1": 0.372, "s2": 0.382, "s3": 0.378, "s4": 0.389, "s5": 0.386, "s6": 0.394, "s7": 0.398, "s8": 0.403, "s9": 0.405, "s10": 0.410, "s11": 0.412, "s12": 0.418},
          {"t": 1.7005, "s1": -0.066, "s2": -0.068, "s3": -0.065, "s4": -0.069, "s5": -0.067, "s6": -0.070, "s7": -0.066, "s8": -0.068, "s9": -0.071, "s10": -0.067, "s11": -0.069, "s12": -0.070},
          {"t": 1.702, "s1": -0.022, "s2": -0.018, "s3": -0.024, "s4": -0.020, "s5": -0.019, "s6": -0.023, "s7": -0.021, "s8": -0.017, "s9": -0.025, "s10": -0.020, "s11": -0.022, "s12": -0.018},
          {"t": 1.705, "s1": 0.004, "s2": 0.001, "s3": 0.006, "s4": 0.002, "s5": 0.005, "s6": 0.000, "s7": 0.003, "s8": 0.007, "s9": 0.001, "s10": 0.004, "s11": 0.002, "s12": 0.005},
          {"t": 1.71, "s1": -0.005, "s2": -0.002, "s3": -0.007, "s4": -0.003, "s5": -0.006, "s6": -0.001, "s7": -0.004, "s8": -0.008, "s9": -0.002, "s10": -0.005, "s11": -0.003, "s12": -0.006},
          {"t": 1.715, "s1": 0.006, "s2": 0.003, "s3": 0.008, "s4": 0.004, "s5": 0.007, "s6": 0.002, "s7": 0.005, "s8": 0.009, "s9": 0.003, "s10": 0.006, "s11": 0.004, "s12": 0.007},
          {"t": 1.72, "s1": -0.003, "s2": 0.000, "s3": -0.005, "s4": -0.001, "s5": -0.004, "s6": 0.001, "s7": -0.002, "s8": -0.006, "s9": 0.000, "s10": -0.003, "s11": -0.001, "s12": -0.004},
          {"t": 1.725, "s1": 0.005, "s2": 0.002, "s3": 0.007, "s4": 0.003, "s5": 0.006, "s6": 0.001, "s7": 0.004, "s8": 0.008, "s9": 0.002, "s10": 0.005, "s11": 0.003, "s12": 0.006},
          {"t": 1.73, "s1": -0.006, "s2": -0.003, "s3": -0.008, "s4": -0.004, "s5": -0.007, "s6": -0.002, "s7": -0.005, "s8": -0.009, "s9": -0.003, "s10": -0.006, "s11": -0.004, "s12": -0.007},
          {"t": 1.735, "s1": 0.004, "s2": 0.001, "s3": 0.006, "s4": 0.002, "s5": 0.005, "s6": 0.000, "s7": 0.003, "s8": 0.007, "s9": 0.001, "s10": 0.004, "s11": 0.002, "s12": 0.005},
          {"t": 1.74, "s1": -0.002, "s2": 0.001, "s3": -0.004, "s4": 0.000, "s5": -0.003, "s6": 0.002, "s7": -0.001, "s8": -0.005, "s9": 0.001, "s10": -0.002, "s11": 0.000, "s12": -0.003},
          {"t": 1.745, "s1": 0.007, "s2": 0.004, "s3": 0.009, "s4": 0.005, "s5": 0.008, "s6": 0.003, "s7": 0.006, "s8": 0.010, "s9": 0.004, "s10": 0.007, "s11": 0.005, "s12": 0.008},
          {"t": 1.75, "s1": -0.004, "s2": -0.001, "s3": -0.006, "s4": -0.002, "s5": -0.005, "s6": 0.000, "s7": -0.003, "s8": -0.007, "s9": -0.001, "s10": -0.004, "s11": -0.002, "s12": -0.005},
          {"t": 1.755, "s1": 0.003, "s2": 0.000, "s3": 0.005, "s4": 0.001, "s5": 0.004, "s6": -0.001, "s7": 0.002, "s8": 0.006, "s9": 0.000, "s10": 0.003, "s11": 0.001, "s12": 0.004}
        ]
      },
      "transform": [
        {"fold": ["s1", "s2", "s3", "s4", "s5", "s6", "s7", "s8", "s9", "s10", "s11", "s12"], "as": ["sweep", "I"]}
      ],
      "mark": {"type": "line", "color": "#ff0000", "strokeWidth": 4, "strokeJoin": "miter"},
      "encoding": {
        "x": {
          "field": "t",
          "type": "quantitative",
          "scale": {"domain": [-0.067, 1.823], "nice": false, "zero": false},
          "axis": {
            "orient": "bottom",
            "title": "t [s]",
            "values": [0.1, 0.55, 1, 1.45],
            "format": ".3~g",
            "labelFont": "DejaVu Sans",
            "labelFontSize": 31,
            "labelColor": "#262626",
            "labelPadding": 28,
            "tickSize": -8,
            "tickColor": "#262626",
            "tickWidth": 1.2,
            "domainColor": "#262626",
            "domainWidth": 1.2,
            "titleFont": "DejaVu Sans",
            "titleFontSize": 30,
            "titleFontWeight": "normal",
            "titleColor": "#262626",
            "titleBaseline": "alphabetic",
            "titleY": 87
          }
        },
        "y": {
          "field": "I",
          "type": "quantitative",
          "scale": {"domain": [-0.1, 0.7], "nice": false, "zero": false},
          "axis": {
            "orient": "left",
            "title": "I [nA]",
            "values": [0, 0.3, 0.6],
            "format": ".3~g",
            "labelFont": "DejaVu Sans",
            "labelFontSize": 31,
            "labelColor": "#262626",
            "labelPadding": 25,
            "tickSize": -8,
            "tickColor": "#262626",
            "tickWidth": 1.2,
            "domainColor": "#262626",
            "domainWidth": 1.2,
            "titleFont": "DejaVu Sans",
            "titleFontSize": 30,
            "titleFontWeight": "normal",
            "titleColor": "#262626",
            "titleAngle": 270,
            "titleBaseline": "alphabetic",
            "titleAlign": "center",
            "titleX": -84,
            "titleY": 240
          }
        },
        "detail": {"field": "sweep", "type": "nominal"}
      }
    },
    {
      "data": {"values": [{"t": 0.1, "I": 0}]},
      "mark": {"type": "point", "opacity": 0},
      "encoding": {
        "x": {
          "field": "t",
          "type": "quantitative",
          "axis": {
            "orient": "top",
            "title": "Inactivation",
            "labels": false,
            "ticks": false,
            "domain": false,
            "titleFont": "DejaVu Sans",
            "titleFontSize": 22,
            "titleFontWeight": "normal",
            "titleColor": "#000000",
            "titleAlign": "right",
            "titleBaseline": "alphabetic",
            "titleX": 716,
            "titleY": -1
          }
        },
        "y": {
          "field": "I",
          "type": "quantitative",
          "axis": {
            "orient": "right",
            "title": "BBP Channelpedia ID 17251 rep 2",
            "labels": false,
            "ticks": false,
            "domain": false,
            "titleFont": "DejaVu Sans",
            "titleFontSize": 21.5,
            "titleFontWeight": "normal",
            "titleColor": "#000000",
            "titleAngle": 270,
            "titleAlign": "center",
            "titleBaseline": "alphabetic",
            "titleX": 1,
            "titleY": 240
          }
        }
      }
    }
  ],
  "resolve": {"axis": {"x": "independent", "y": "independent"}}
}
